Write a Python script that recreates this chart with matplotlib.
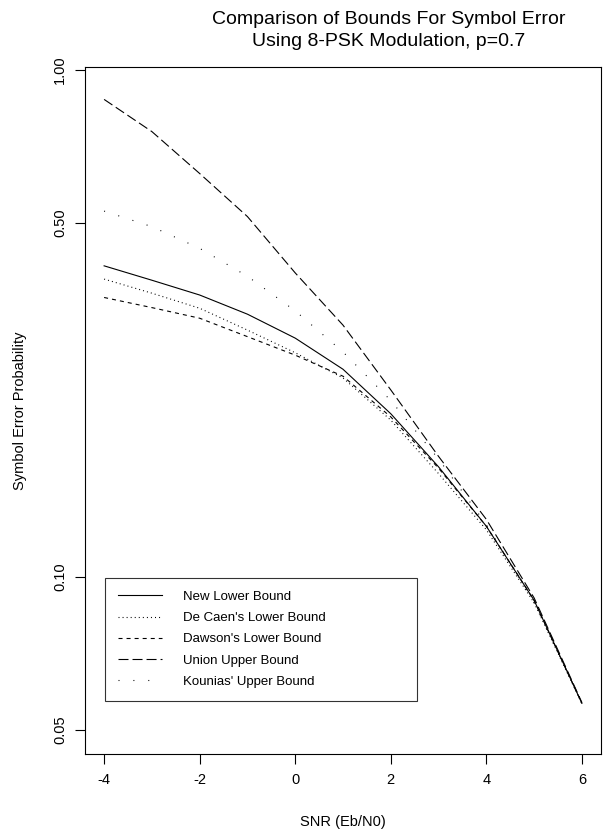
import matplotlib
matplotlib.use('Agg')
import matplotlib.pyplot as plt
from matplotlib.ticker import FixedLocator, FixedFormatter, NullLocator

plt.rcParams['font.family'] = ['Liberation Sans', 'DejaVu Sans']
plt.rcParams['lines.scale_dashes'] = False

# SNR (Eb/N0) in dB
snr = [-4, -3, -2, -1, 0, 1, 2, 3, 4, 5, 6]

# symbol error probability
new_lower = [0.411, 0.385, 0.360, 0.330, 0.296, 0.257, 0.210, 0.165, 0.126, 0.090, 0.0564]
decaen_lower = [0.387, 0.363, 0.339, 0.307, 0.277, 0.247, 0.204, 0.160, 0.124, 0.089, 0.0563]
dawson_lower = [0.356, 0.340, 0.324, 0.298, 0.274, 0.249, 0.207, 0.164, 0.126, 0.090, 0.0564]
union_upper = [0.875, 0.756, 0.625, 0.514, 0.398, 0.314, 0.234, 0.173, 0.130, 0.091, 0.0566]
kounias_upper = [0.527, 0.491, 0.445, 0.392, 0.335, 0.278, 0.223, 0.171, 0.127, 0.089, 0.0565]

labels = ['New Lower Bound', "De Caen's Lower Bound", "Dawson's Lower Bound",
          'Union Upper Bound', "Kounias' Upper Bound"]
yticks = [0.05, 0.10, 0.50, 1.00]
ytick_labels = ['0.05', '0.10', '0.50', '1.00']
xticks = [-4, -2, 0, 2, 4, 6]

# R style line types (on/off in points)
STYLES = ['-', (0, (0.72, 2.2)), (0, (2.9, 2.9)), (0, (7.2, 2.9)), (0, (0.72, 10))]

W, H = 605, 831
fig = plt.figure(figsize=(W / 100, H / 100), dpi=100)
ax = fig.add_axes([85 / W, 1 - 754 / H, (601 - 85) / W, (754 - 67) / H])

series = [new_lower, decaen_lower, dawson_lower, union_upper, kounias_upper]
for ys, lab, ls in zip(series, labels, STYLES):
    ax.plot(snr, ys, color='black', linestyle=ls, linewidth=0.8, label=lab)

ax.set_yscale('log')
ax.set_xlim(-4.4, 6.4)
ax.set_ylim(0.0448, 1.0137)
ax.yaxis.set_major_locator(FixedLocator(yticks))
ax.yaxis.set_major_formatter(FixedFormatter(ytick_labels))
ax.yaxis.set_minor_locator(NullLocator())
ax.set_xticks(xticks)
ax.set_xticklabels([str(x) for x in xticks])

for sp in ax.spines.values():
    sp.set_linewidth(0.8)
ax.tick_params(axis='both', direction='out', length=7, width=0.8, labelsize=10.5)
ax.tick_params(axis='x', pad=7)
ax.tick_params(axis='y', pad=6)
plt.setp(ax.get_yticklabels(), rotation=90, va='center')

ax.set_xlabel('SNR (Eb/N0)', fontsize=10.5, va='center')
ax.xaxis.set_label_coords(0.5, (754 - 822) / (754 - 67))
ax.set_ylabel('Symbol Error Probability', fontsize=10.5, va='center')
ax.yaxis.set_label_coords((20 - 85) / (601 - 85), 0.5)

fig.text(389 / W, 1 - 20 / H, 'Comparison of Bounds For Symbol Error', ha='center', va='center', fontsize=14)
fig.text(389 / W, 1 - 42 / H, 'Using 8-PSK Modulation, p=0.7', ha='center', va='center', fontsize=14)

lx0 = (105 - 85) / (601 - 85)
ly0 = (754 - 701) / (754 - 67)
lw = (417 - 105) / (601 - 85)
lh = (701 - 577) / (754 - 67)
leg = ax.legend(loc='lower left', bbox_to_anchor=(lx0, ly0, lw, lh), mode='expand',
                borderaxespad=0, fontsize=9.5, frameon=True, fancybox=False,
                handlelength=3.3, handletextpad=1.6, labelspacing=0.68, borderpad=1.0)
leg.get_frame().set_edgecolor('black')
leg.get_frame().set_linewidth(0.8)

fig.savefig('out.png', dpi=100)
